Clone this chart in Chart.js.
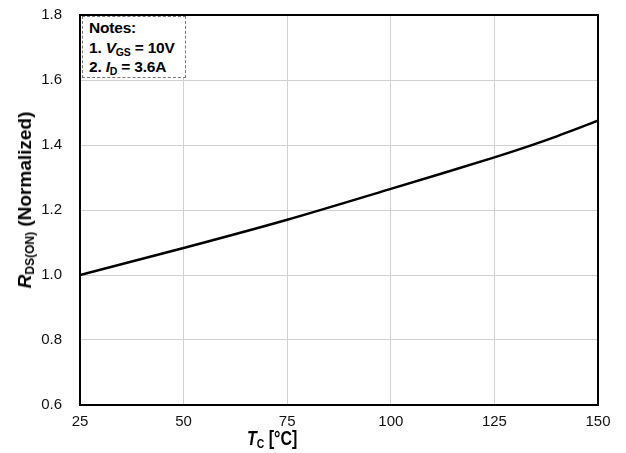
<!DOCTYPE html>
<html>
<head>
<meta charset="utf-8">
<script src="https://cdn.jsdelivr.net/npm/chart.js@4/dist/chart.umd.min.js"></script>
<style>
  body { margin: 0; background: #fff; font-family: "Liberation Sans", Arial, sans-serif; }
  #wrap { position: relative; width: 626px; height: 453px; }
  .lbl { position: absolute; font-weight: bold; color: #000; white-space: nowrap; }
  #notes { position: absolute; left: 82px; top: 16px; width: 104px; height: 62px;
           border: 1px dashed #777; background: #fff; font-weight: bold; font-size: 15.5px;
           line-height: 19.5px; padding: 1px 0 0 6px; box-sizing: border-box; letter-spacing: -0.2px; }
  sub { font-size: 10.5px; vertical-align: -3px; line-height: 0; }
  #ytitle { left: 25px; top: 200px; font-size: 19px; transform: translate(-50%, -50%) rotate(-90deg); }
  #xtitle { left: 247px; top: 427px; font-size: 20px; transform: scaleX(0.8); transform-origin: left top; }
  #xtitle sub { font-size: 13px; }
  #ytitle sub { font-size: 12px; }
</style>
</head>
<body>
<div id="wrap">
  <canvas id="chart" width="626" height="453"></canvas>
  <div id="notes">Notes:<br>1. <i>V</i><sub>GS</sub> = 10V<br>2. <i>I</i><sub>D</sub> = 3.6A</div>
  <div class="lbl" id="ytitle"><i>R</i><sub>DS(ON)</sub> (Normalized)</div>
  <div class="lbl" id="xtitle"><i>T</i><sub>C</sub> [&deg;C]</div>
</div>
<script>
// case temperature (°C) and normalized on-resistance
const tempC = [25, 50, 75, 100, 125, 137.5, 150];
const rdsNorm = [1.000, 1.083, 1.170, 1.265, 1.362, 1.415, 1.475];
const xTicks = [25, 50, 75, 100, 125, 150];
const yTicks = [0.6, 0.8, 1.0, 1.2, 1.4, 1.6, 1.8];

const frame = {
  id: 'frame',
  afterDraw(chart) {
    const a = chart.chartArea;
    const ctx = chart.ctx;
    ctx.save();
    ctx.strokeStyle = '#000';
    ctx.lineWidth = 2;
    ctx.strokeRect(a.left, a.top, a.right - a.left, a.bottom - a.top);
    ctx.restore();
  }
};

new Chart(document.getElementById('chart'), {
  type: 'line',
  data: {
    datasets: [{
      data: tempC.map((t, i) => ({ x: t, y: rdsNorm[i] })),
      borderColor: '#000',
      borderWidth: 2.5,
      pointRadius: 0,
      tension: 0.3
    }]
  },
  options: {
    responsive: false,
    animation: false,
    layout: { padding: { top: 15, right: 28, left: 0, bottom: 0 } },
    plugins: { legend: { display: false }, tooltip: { enabled: false } },
    scales: {
      x: {
        type: 'linear', min: 25, max: 150,
        afterBuildTicks: s => { s.ticks = xTicks.map(v => ({ value: v })); },
        afterFit: s => { s.height = 48; },
        grid: { color: '#d0d0d0', drawTicks: false },
        border: { display: false },
        ticks: { padding: 8, color: '#111', font: { size: 15, family: '"Liberation Sans", Arial' } }
      },
      y: {
        min: 0.6, max: 1.8,
        afterBuildTicks: s => { s.ticks = yTicks.map(v => ({ value: v })); },
        afterFit: s => { s.width = 80; s.paddingTop = 0; s.paddingBottom = 0; },
        grid: { color: '#d0d0d0', drawTicks: false },
        border: { display: false },
        ticks: { padding: 18, color: '#111', callback: v => v.toFixed(1),
                 font: { size: 15, family: '"Liberation Sans", Arial' } }
      }
    }
  },
  plugins: [frame]
});
</script>
</body>
</html>
